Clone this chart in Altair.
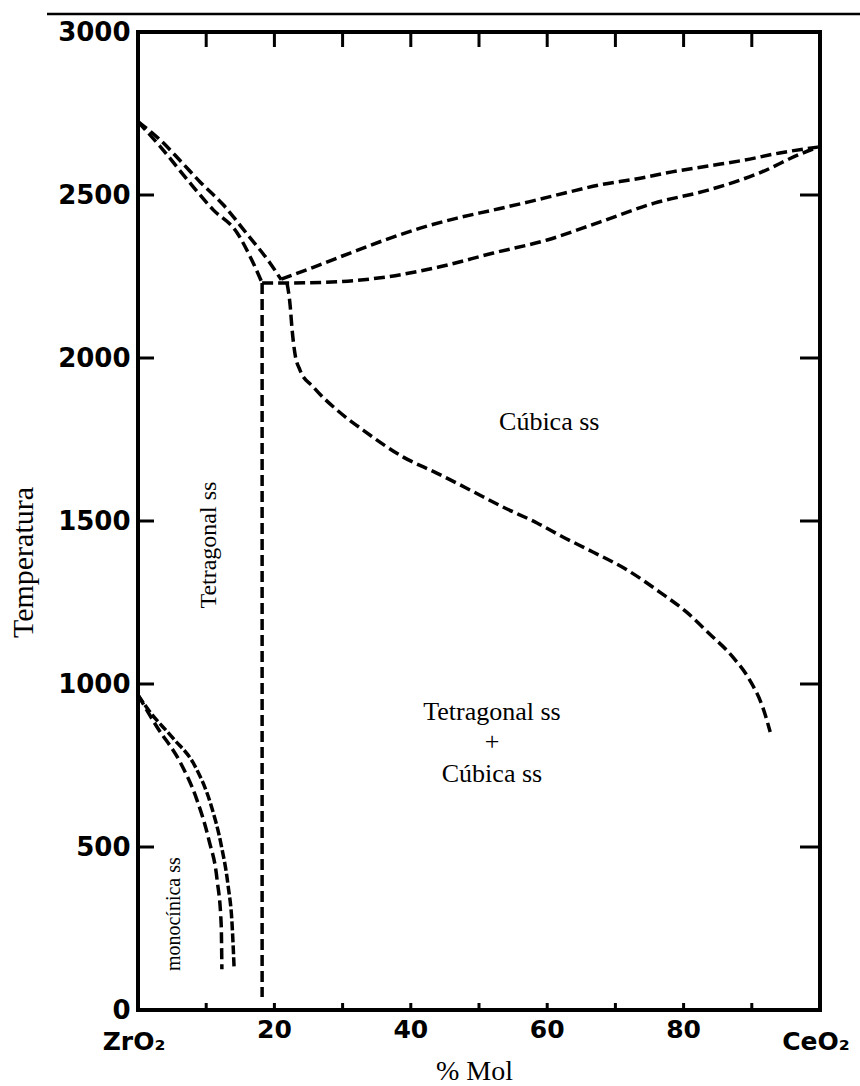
import altair as alt
import pandas as pd

# ---- phase boundaries of the ZrO2-CeO2 system (x: mol % CeO2, T: temperature) ----
# tetragonal liquidus from the ZrO2 melting point
liq_t_x = [0.0, 3.2, 6.2, 9.1, 12.5, 16.0, 19.4, 21.0]
liq_t_T = [2725, 2670, 2605, 2540, 2470, 2380, 2290, 2240]
# tetragonal solidus
sol_t_x = [0.0, 3.2, 8.1, 11.0, 14.5, 16.7, 18.2]
sol_t_T = [2725, 2650, 2525, 2455, 2385, 2300, 2230]
# cubic liquidus
liq_c_x = [21.0, 25.8, 31.1, 36.2, 41.5, 46.8, 52.1, 57.3, 62.6, 67.7, 73.0, 78.3, 83.6, 88.9, 94.1, 99.7]
liq_c_T = [2242, 2279, 2322, 2362, 2399, 2429, 2454, 2479, 2506, 2531, 2549, 2571, 2589, 2607, 2629, 2647]
# cubic solidus
sol_c_x = [18.2, 21.6, 28.4, 36.2, 44.1, 52.1, 60.0, 67.7, 75.7, 83.6, 91.5, 96.8, 99.7]
sol_c_T = [2230, 2230, 2233, 2248, 2279, 2322, 2362, 2417, 2475, 2515, 2571, 2623, 2647]
# cubic / (tetragonal + cubic) boundary
cub_x = [21.85, 22.3, 22.6, 23.0, 23.75, 25.7, 29.2, 33.0, 38.9, 43.8, 48.7, 53.5, 58.5,
         62.3, 66.7, 71.7, 76.5, 80.4, 83.7, 87.2, 89.7, 91.6, 92.7]
cub_T = [2230, 2163, 2086, 2015, 1963, 1911, 1840, 1779, 1696, 1647, 1595, 1543, 1494,
         1451, 1405, 1350, 1282, 1221, 1156, 1083, 1012, 929, 853]
# tetragonal / (tetragonal + cubic) boundary
tet_x = [18.2, 18.2]
tet_T = [2230, 40]
# monoclinic / tetragonal transformation
mono_out_x = [0.0, 1.76, 5.13, 8.36, 10.7, 12.2, 13.2, 13.8, 14.1]
mono_out_T = [966, 914, 834, 748, 629, 506, 383, 261, 125]
mono_in_x = [0.0, 2.79, 6.16, 8.65, 10.4, 11.6, 12.2, 12.3]
mono_in_T = [966, 868, 761, 644, 521, 399, 261, 125]

# ---- axes ----
y_tick_vals = [500, 1000, 1500, 2000, 2500]
y_label_vals = [0, 500, 1000, 1500, 2000, 2500, 3000]
x_tick_vals = [10, 20, 30, 40, 50, 60, 70, 80, 90]
x_num_pos = [20, 40, 60, 80]
x_num_text = ["20", "40", "60", "80"]
x_end_pos = [0, 100]
x_end_text = ["ZrO₂", "CeO₂"]

# ---- phase field labels ----
field_text = ["Cúbica ss", "Tetragonal ss", "+", "Cúbica ss"]
field_x = [60.3, 51.9, 51.9, 51.9]
field_T = [1779, 890, 798, 699]
vert_text = ["Tetragonal ss"]
vert_x = [11.4]
vert_T = [1426]
mono_text = ["monocínica ss"]
mono_x = [6.2]
mono_T = [294]


def series(name, xs, ts):
    return pd.DataFrame({"series": name, "x": xs, "T": ts, "order": range(len(xs))})


dashed = pd.concat([
    series("liq_t", liq_t_x, liq_t_T),
    series("sol_t", sol_t_x, sol_t_T),
    series("liq_c", liq_c_x, liq_c_T),
    series("sol_c", sol_c_x, sol_c_T),
    series("cub", cub_x, cub_T),
    series("tet", tet_x, tet_T),
    series("mono_in", mono_in_x, mono_in_T),
])
outer = series("mono_out", mono_out_x, mono_out_T)

W, H = 682, 978
xs = alt.Scale(domain=[0, 100], nice=False, zero=False)
ys = alt.Scale(domain=[0, 3000], nice=False, zero=False)

x_enc = alt.X(
    "x:Q", scale=xs,
    axis=alt.Axis(
        title="% Mol", labels=False, ticks=False, domain=False, grid=False,
        titleFont="Liberation Serif", titleFontSize=28, titleFontWeight="normal",
        titleColor="black", titleX=336, titleY=69, titleBaseline="alphabetic",
        titleAlign="center",
    ),
)
y_enc = alt.Y(
    "T:Q", scale=ys,
    axis=alt.Axis(
        title="Temperatura", values=y_label_vals, format="d", ticks=False,
        domain=False, grid=False, labelPadding=8,
        labelFont="DejaVu Sans", labelFontWeight="bold", labelFontSize=26,
        labelColor="black",
        titleFont="Liberation Serif", titleFontSize=30, titleFontWeight="normal",
        titleColor="black", titleAngle=270, titleX=-106, titleY=530,
        titleAlign="center", titleBaseline="alphabetic",
    ),
)
# the other layers share these scales and inherit the axes above
x_plain = alt.X("x:Q", scale=xs)
y_plain = alt.Y("T:Q", scale=ys)

lines = alt.Chart(dashed).mark_line(
    color="black", strokeWidth=3.5, strokeDash=[11, 5], interpolate="monotone"
).encode(x=x_enc, y=y_enc, detail="series:N", order="order:Q")

outer_line = alt.Chart(outer).mark_line(
    color="black", strokeWidth=3.5, strokeDash=[9, 3], interpolate="monotone"
).encode(x=x_plain, y=y_plain, order="order:Q")

ytick_df = pd.DataFrame({"T": y_tick_vals})
left_ticks = alt.Chart(ytick_df).mark_rule(color="black", strokeWidth=3).encode(
    y=y_plain, x=alt.value(0), x2=alt.value(16)
)
right_ticks = alt.Chart(ytick_df).mark_rule(color="black", strokeWidth=3).encode(
    y=y_plain, x=alt.value(W - 20), x2=alt.value(W)
)
xtick_df = pd.DataFrame({"x": x_tick_vals})
top_ticks = alt.Chart(xtick_df).mark_rule(color="black", strokeWidth=3).encode(
    x=x_plain, y=alt.value(0), y2=alt.value(15)
)
bottom_ticks = alt.Chart(xtick_df).mark_rule(color="black", strokeWidth=3).encode(
    x=x_plain, y=alt.value(H), y2=alt.value(H - 7)
)

num_labels = alt.Chart(pd.DataFrame({"x": x_num_pos, "t": x_num_text})).mark_text(
    font="DejaVu Sans", fontWeight="bold", fontSize=25, color="black",
    baseline="alphabetic", align="center", dy=28,
).encode(x=x_plain, y=alt.value(H), text="t:N")

end_labels = alt.Chart(pd.DataFrame({"x": x_end_pos, "t": x_end_text})).mark_text(
    font="DejaVu Sans", fontWeight="bold", fontSize=25, color="black",
    baseline="alphabetic", align="center", dy=40, dx=-4,
).encode(x=x_plain, y=alt.value(H), text="t:N")

field_labels = alt.Chart(
    pd.DataFrame({"x": field_x, "T": field_T, "t": field_text})
).mark_text(
    font="Liberation Serif", fontSize=26, color="black",
    baseline="alphabetic", align="center",
).encode(x=x_plain, y=y_plain, text="t:N")

vert_labels = alt.Chart(
    pd.DataFrame({"x": vert_x, "T": vert_T, "t": vert_text})
).mark_text(
    font="Liberation Serif", fontSize=24, color="black", angle=270,
    baseline="alphabetic", align="center",
).encode(x=x_plain, y=y_plain, text="t:N")

mono_labels = alt.Chart(
    pd.DataFrame({"x": mono_x, "T": mono_T, "t": mono_text})
).mark_text(
    font="Liberation Serif", fontSize=20, color="black", angle=270,
    baseline="alphabetic", align="center",
).encode(x=x_plain, y=y_plain, text="t:N")

# header rule across the page above the diagram
page_rule = alt.Chart(pd.DataFrame({"k": [0]})).mark_rule(
    color="black", strokeWidth=2.5
).encode(x=alt.value(-91), x2=alt.value(722), y=alt.value(-18))

chart = alt.layer(
    lines, outer_line, left_ticks, right_ticks, top_ticks, bottom_ticks,
    num_labels, end_labels, field_labels, vert_labels, mono_labels, page_rule,
).properties(
    width=W, height=H,
    autosize=alt.AutoSizeParams(type="none"),
    padding={"left": 138, "top": 32, "right": 40, "bottom": 76},
    background="white",
).configure_view(
    stroke="black", strokeWidth=4
)

chart.save("out.html", embed_options={"renderer": "svg", "actions": False})
